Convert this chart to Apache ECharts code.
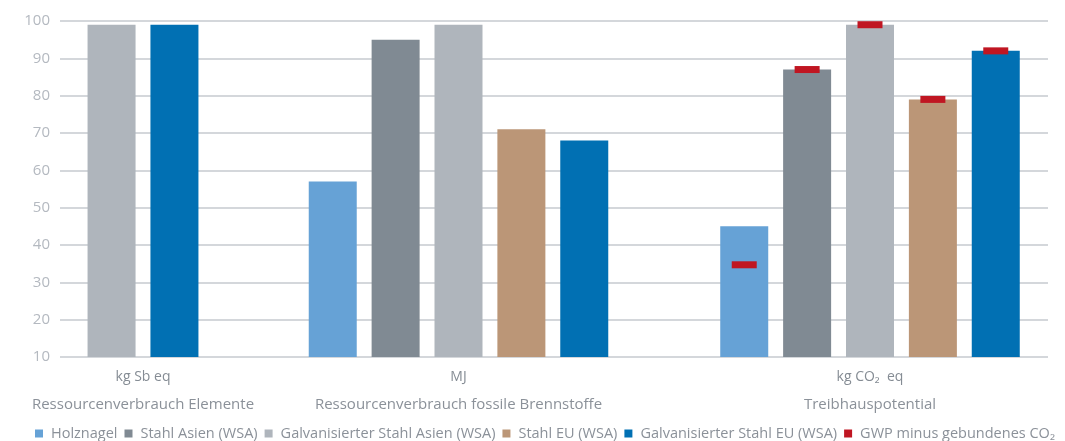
<!DOCTYPE html>
<html>
<head>
<meta charset="utf-8">
<script src="https://cdn.jsdelivr.net/npm/echarts@6/dist/echarts.min.js"></script>
<style>
html,body{margin:0;padding:0;background:#fff;}
#chart{width:1065px;height:441px;}
</style>
</head>
<body>
<div id="chart"></div>
<script>
// ---- data ----
const categories = ['Ressourcenverbrauch Elemente', 'Ressourcenverbrauch fossile Brennstoffe', 'Treibhauspotential'];
const units = ['kg Sb eq', 'MJ', 'kg CO₂  eq'];
const materials = ['Holznagel', 'Stahl Asien (WSA)', 'Galvanisierter Stahl Asien (WSA)', 'Stahl EU (WSA)', 'Galvanisierter Stahl EU (WSA)'];
const holznagel = [null, 57, 45];
const stahlAsien = [null, 95, 87];
const galvStahlAsien = [99, 99, 99];
const stahlEU = [null, 71, 79];
const galvStahlEU = [99, 68, 92];
const gwpName = 'GWP minus gebundenes CO₂';
const gwpMinusCO2 = [34.7, 87, 99, 79, 92]; // Treibhauspotential, per material
const yMin = 10, yMax = 100, yStep = 10;

// ---- styling / layout ----
const colors = ['#66a2d6', '#808a93', '#afb5bc', '#bb9677', '#0170b3'];
const gwpColor = '#c01622';
const fontFamily = '"Open Sans", Lato, sans-serif';
const gridTop = 21, gridBottom = 84;
const groupBoxes = [{left: 60, width: 166}, {left: 226, width: 465}, {left: 691, width: 358}];
const barW = 48, barGap = '31%';

const valuesByMaterial = [holznagel, stahlAsien, galvStahlAsien, stahlEU, galvStahlEU];

const grids = [{left: 60, right: 17, top: gridTop, bottom: gridBottom}];
const xAxes = [{gridIndex: 0, type: 'category', data: [''], show: false}];
const yAxes = [{
  gridIndex: 0, type: 'value', min: yMin, max: yMax, interval: yStep,
  axisLine: {show: false}, axisTick: {show: false},
  axisLabel: {color: '#b4b9c0', fontSize: 15, fontFamily, margin: 10},
  splitLine: {lineStyle: {color: '#c6cacf', width: 1.5}}
}];

const series = [];
categories.forEach((cat, g) => {
  const idx = g + 1;
  grids.push({left: groupBoxes[g].left, width: groupBoxes[g].width, top: gridTop, bottom: gridBottom});
  xAxes.push({
    gridIndex: idx, type: 'category', data: [cat],
    axisLine: {show: false}, axisTick: {show: false},
    axisLabel: {
      margin: 7,
      formatter: () => '{u|' + units[g] + '}\n{g|' + cat + '}',
      rich: {
        u: {fontSize: 14, color: '#858c94', fontFamily, lineHeight: 27},
        g: {fontSize: 15, color: '#8b9199', fontFamily, lineHeight: 27}
      }
    }
  });
  yAxes.push({gridIndex: idx, type: 'value', min: yMin, max: yMax, show: false, splitLine: {show: false}});
  valuesByMaterial.forEach((vals, m) => {
    if (vals[g] == null) return;
    series.push({
      type: 'bar', name: materials[m], xAxisIndex: idx, yAxisIndex: idx,
      data: [vals[g]], barWidth: barW, barGap: barGap,
      itemStyle: {color: colors[m]}, silent: true
    });
  });
  if (g === 2) {
    gwpMinusCO2.forEach((v, m) => {
      series.push({
        type: 'pictorialBar', name: gwpName, xAxisIndex: idx, yAxisIndex: idx,
        data: [v], barWidth: barW, barGap: barGap,
        symbol: 'rect', symbolSize: [25, 7], symbolPosition: 'end', symbolOffset: [0, '-50%'],
        itemStyle: {color: gwpColor}, z: 5, silent: true
      });
    });
  }
});

const chart = echarts.init(document.getElementById('chart'), null, {renderer: 'canvas'});
chart.setOption({
  animation: false,
  grid: grids,
  xAxis: xAxes,
  yAxis: yAxes,
  legend: {
    data: materials.concat([gwpName]),
    left: 30, top: 421,
    icon: 'rect', itemWidth: 8, itemHeight: 8, itemGap: 7,
    textStyle: {color: '#8b9199', fontSize: 14.5, fontFamily, padding: [0, 0, 0, 3]},
    selectedMode: false
  },
  series: series
});
</script>
</body>
</html>
